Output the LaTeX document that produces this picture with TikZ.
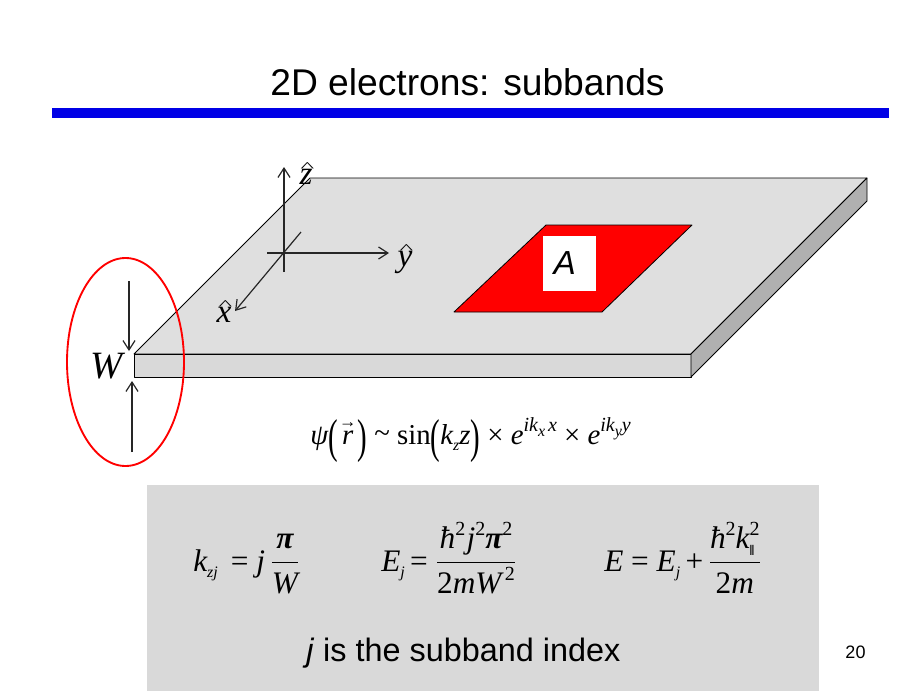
\documentclass[tikz,border=0pt]{standalone}
\usepackage{fontspec}
\usepackage{graphicx}
\setmainfont{Liberation Sans}
\newfontfamily\fser{Liberation Serif}
\usetikzlibrary{arrows.meta}
\newcommand{\iv}[1]{{\fser\itshape #1}}
\newcommand{\rv}[1]{{\fser #1}}
\newcommand{\upp}[1]{\raisebox{0.42em}{\fontsize{15}{15}\selectfont #1}}
\newcommand{\dwn}[1]{\raisebox{-0.22em}{\fontsize{12}{12}\selectfont #1}}
\newcommand{\fr}[2]{$\displaystyle{\hbox{#1}\above 0.9pt\hbox{#2}}$}
\newcommand{\hatv}[1]{\leavevmode\ooalign{\hfil\raisebox{0.39em}{\scalebox{1.3}[0.6]{\rv{\fontsize{17}{17}\selectfont\textasciicircum}}}\hfil\cr\iv{#1}\cr}}
\newcommand{\vecr}{\leavevmode\ooalign{\hfil\raisebox{0.56em}{\rv{\fontsize{13}{13}\selectfont →}}\hfil\cr\kern0.15em\iv{r}\kern0.15em\cr}}
\newcommand{\lpar}{\raisebox{-0.28em}{\scalebox{1}[1.65]{\rv{(}}}}
\newcommand{\rpar}{\raisebox{-0.28em}{\scalebox{1}[1.65]{\rv{)}}}}
\newcommand{\pibold}{{\fser\itshape\bfseries π}}
\definecolor{topface}{HTML}{DFDFDF}
\definecolor{frontface}{HTML}{D9D9D9}
\definecolor{sideface}{HTML}{B0B0B0}
\definecolor{panel}{HTML}{D9D9D9}
\definecolor{axis}{HTML}{262626}
\tikzset{
  face/.style={draw=black,line width=0.6pt,line join=round},
  axisline/.style={draw=axis,line width=0.9pt,-{Straight Barb[length=7pt,width=9pt,line width=0.9pt]}},
  eqn/.style={inner sep=0pt,anchor=base west,font=\fser\fontsize{23.5}{28}\selectfont},
  sym/.style={inner sep=0pt,anchor=base,font=\fser\itshape\fontsize{25}{30}\selectfont},
}
\begin{document}
\begin{tikzpicture}[x=0.75pt,y=-0.75pt]
\useasboundingbox (0,0) rectangle (922,700);
\fill[white] (0,0) rectangle (922,700);
\node[inner sep=0pt,font=\fontsize{27.9}{32}\selectfont] (title) at (467.5,82) {2D electrons: subbands};
\fill[fill={rgb,255:red,0;green,0;blue,230}] (52,108) rectangle (889,118);

% slab
\coordinate (fl) at (134,354);
\coordinate (fr) at (691,354);
\coordinate (bl) at (310,178);
\coordinate (br) at (867,178);
\coordinate (flb) at (134,377);
\coordinate (frb) at (691,377);
\coordinate (brb) at (867,201);
\draw[face,fill=topface] (fl) -- (bl) -- (br) -- (fr) -- cycle;
\draw[face,fill=frontface] (fl) -- (fr) -- (frb) -- (flb) -- cycle;
\draw[face,fill=sideface] (fr) -- (br) -- (brb) -- (frb) -- cycle;

% area A
\draw[face,fill=red] (546,225) -- (692,225) -- (602,312) -- (454,312) -- cycle;
\node[fill=white,minimum width=39.75pt,minimum height=41.25pt,inner sep=0pt,font=\itshape\fontsize{25}{28}\selectfont] (A) at (569.5,263.5) {A\kern 7pt};

% axes
\coordinate (zs) at (284,272);
\coordinate (ze) at (284,167);
\coordinate (ys) at (267,253);
\coordinate (ye) at (389,253);
\coordinate (xs) at (301,232);
\coordinate (xe) at (235,311);
\draw[axisline] (zs) -- (ze);
\draw[axisline] (ys) -- (ye);
\draw[axisline] (xs) -- (xe);
\node[sym] (zlab) at (306,184) {\hatv{z}};
\node[sym] (ylab) at (405,266) {\hatv{y}};
\node[sym] (xlab) at (224,322) {\hatv{x}};

% W marker
\coordinate (wa) at (129,281);
\coordinate (wb) at (129,351);
\coordinate (wc) at (132,452);
\coordinate (wd) at (132,381);
\draw[axisline] (wa) -- (wb);
\draw[axisline] (wc) -- (wd);
\node[inner sep=0pt,font=\fser\itshape\fontsize{29}{34}\selectfont] (Wlab) at (107,366) {W};
\draw[red,line width=1.4pt] (125.5,362) ellipse [x radius=58.5,y radius=104];

% wave function
\node[eqn,font=\fser\fontsize{21.6}{26}\selectfont] (psi) at (310,444) {\iv{ψ}\lpar\vecr\rpar\ \rv{\raisebox{0.05em}{\textasciitilde}}\ sin\lpar\iv{k}\dwn{\iv{z}}\iv{z}\rpar\ × \iv{e}\upp{\iv{ik}\dwn{\iv{x}}\kern0.15em\iv{x}}\ × \iv{e}\upp{\iv{ik}\dwn{\iv{y}}\iv{y}}};

% panel
\fill[panel] (147,485) rectangle (819,691);
\node[eqn] (kz) at (193,571) {\iv{k}\dwn{\iv{zj}}\ \,= \iv{j}\,\fr{\pibold}{\iv{W}}};
\node[eqn] (Ej) at (381,571) {\iv{E}\dwn{\iv{j}}\,= \fr{\iv{ħ}\upp{2}\kern1pt\iv{j}\upp{2}\pibold\upp{2}}{2\iv{mW}\upp{\,2}}};
\node[eqn] (En) at (604,571) {\iv{E} = \iv{E}\dwn{\iv{j}}\,+\,\fr{\iv{ħ}\upp{2}\iv{k}\rlap{\dwn{\bfseries\fontsize{11}{11}\selectfont ‖}}\upp{2}}{2\iv{m}}};
\node[inner sep=0pt,anchor=base west,font=\fontsize{24.3}{28}\selectfont] (idx) at (306,661) {\textit{j} is the subband index};
\node[inner sep=0pt,font=\fontsize{13.5}{16}\selectfont] (page) at (855.5,652) {20};
\end{tikzpicture}
\end{document}
